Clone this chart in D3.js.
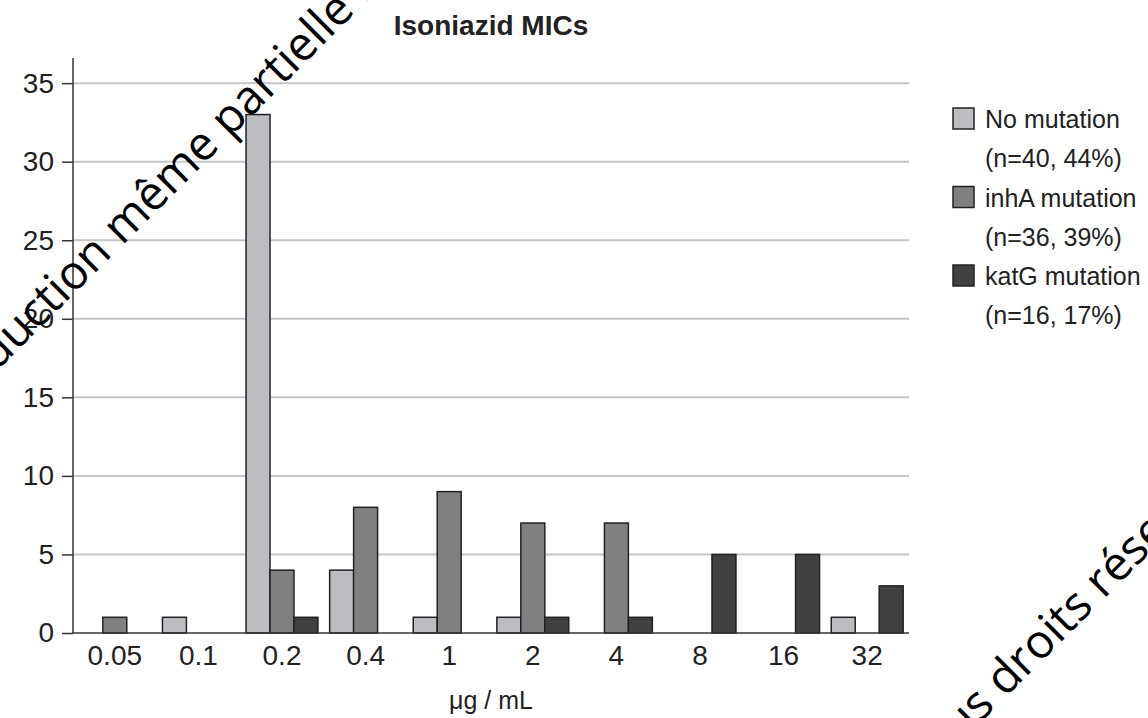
<!DOCTYPE html>
<html>
<head>
<meta charset="utf-8">
<script src="https://cdn.jsdelivr.net/npm/d3@7"></script>
<style>
  body { margin: 0; background: #fff; }
  svg { display: block; font-family: "Liberation Sans", Arial, Helvetica, sans-serif; }
</style>
</head>
<body>
<div id="myChart"></div>
<script>
// MIC categories (x axis tick labels)
var categories = ["0.05", "0.1", "0.2", "0.4", "1", "2", "4", "8", "16", "32"];
var seriesNames = ["No mutation", "inhA mutation", "katG mutation"];
var seriesSub = ["(n=40, 44%)", "(n=36, 39%)", "(n=16, 17%)"];
var noMutation = [0, 1, 33, 4, 1, 1, 0, 0, 0, 1];
var inhA = [1, 0, 4, 8, 9, 7, 7, 0, 0, 0];
var katG = [0, 0, 1, 0, 0, 1, 1, 5, 5, 3];
var yTicks = [0, 5, 10, 15, 20, 25, 30, 35];

var colors = ["#bcbdc0", "#808083", "#404040"];
var seriesValues = [noMutation, inhA, katG];

//Plot area edges
var W = 1148, H = 718;
var pLeft = 73, pRight = 909, pTop = 58, pBottom = 633;

var svg = d3.select("#myChart")
    .append("svg")
    .attr("width", W)
    .attr("height", H);

//Scales
var x0 = d3.scaleBand().domain(categories).range([pLeft, pRight])
    .paddingInner(0.14).paddingOuter(0.07);
var x1 = d3.scaleBand().domain(seriesNames).range([0, x0.bandwidth()]);
var y = d3.scaleLinear().domain([0, 36.6]).range([pBottom, pTop]);

//Gridlines
svg.append("g")
    .selectAll("line")
    .data(yTicks.filter(function (d) { return d > 0; }))
    .enter().append("line")
    .attr("x1", pLeft).attr("x2", pRight)
    .attr("y1", function (d) { return y(d); })
    .attr("y2", function (d) { return y(d); })
    .attr("stroke", "#c6c6c6")
    .attr("stroke-width", 2);

//Bars, only non-zero ones
var bars = [];
categories.forEach(function (c, i) {
    seriesNames.forEach(function (s, j) {
        if (seriesValues[j][i] > 0) bars.push({ cat: c, s: s, j: j, v: seriesValues[j][i] });
    });
});
svg.append("g")
    .selectAll("rect")
    .data(bars)
    .enter().append("rect")
    .attr("x", function (d) { return x0(d.cat) + x1(d.s); })
    .attr("y", function (d) { return y(d.v); })
    .attr("width", x1.bandwidth())
    .attr("height", function (d) { return y(0) - y(d.v); })
    .attr("fill", function (d) { return colors[d.j]; })
    .attr("stroke", "#222")
    .attr("stroke-width", 1.5);

//Y axis
var yAxis = svg.append("g")
    .attr("transform", "translate(" + pLeft + ",0)")
    .call(d3.axisLeft(y).tickValues(yTicks).tickSize(11).tickPadding(8));
yAxis.select(".domain").attr("d", "M0," + pTop + "V" + pBottom).attr("stroke", "#333").attr("stroke-width", 1.5);
yAxis.selectAll(".tick line").attr("stroke", "#333").attr("stroke-width", 1.5);
yAxis.selectAll("text").style("font-size", "28px").attr("fill", "#222")
    .style("font-family", "'Liberation Sans', Arial, sans-serif");

//X axis
var xAxis = svg.append("g")
    .attr("transform", "translate(0," + pBottom + ")")
    .call(d3.axisBottom(x0).tickSize(0).tickPadding(12));
xAxis.select(".domain").attr("d", "M" + pLeft + ",0H" + pRight).attr("stroke", "#333").attr("stroke-width", 1.5);
xAxis.selectAll("text").style("font-size", "28px").attr("fill", "#222")
    .style("font-family", "'Liberation Sans', Arial, sans-serif");

//Title
svg.append("text")
    .attr("x", (pLeft + pRight) / 2)
    .attr("y", 35)
    .attr("text-anchor", "middle")
    .style("font-size", "28px")
    .style("font-weight", "bold")
    .attr("fill", "#222")
    .text("Isoniazid MICs");

//X axis label
svg.append("text")
    .attr("x", (pLeft + pRight) / 2)
    .attr("y", 709)
    .attr("text-anchor", "middle")
    .style("font-size", "25px")
    .attr("fill", "#222")
    .text("μg / mL");

//Legend
var legend = svg.append("g").selectAll("g")
    .data(seriesNames)
    .enter().append("g")
    .attr("transform", function (d, i) { return "translate(953," + (108 + i * 78.5) + ")"; });
legend.append("rect")
    .attr("width", 21).attr("height", 21)
    .attr("fill", function (d, i) { return colors[i]; })
    .attr("stroke", "#222").attr("stroke-width", 1.5);
legend.append("text")
    .attr("x", 32).attr("y", 20)
    .style("font-size", "25px").attr("fill", "#222")
    .text(function (d) { return d; });
legend.append("text")
    .attr("x", 32).attr("y", 59)
    .style("font-size", "25px").attr("fill", "#222")
    .text(function (d, i) { return seriesSub[i]; });

//Watermark text, placed so a given character starts at a given point
function watermark(str, idx, px, py) {
    var t = svg.append("text")
        .style("font-family", "'Open Sans', 'Noto Sans', sans-serif")
        .style("font-size", "47px")
        .attr("fill", "#000")
        .text(str);
    var p = t.node().getStartPositionOfChar(idx);
    t.attr("transform", "translate(" + px + "," + py + ") rotate(-45) translate(" + (-p.x) + ",0)");
}
watermark("Reproduction même partielle interdite", 13, 122, 246);
watermark("Tous droits réservés", 5, 1005, 698);
</script>
</body>
</html>
